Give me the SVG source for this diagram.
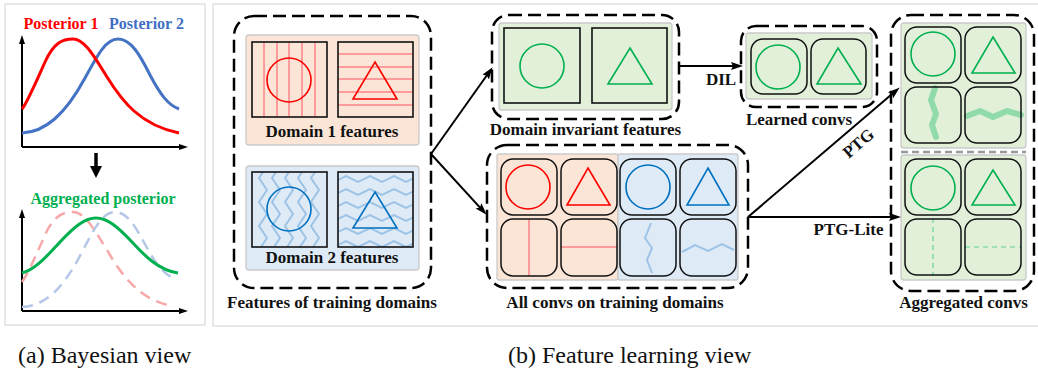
<svg xmlns="http://www.w3.org/2000/svg" width="1038" height="370" viewBox="0 0 1038 370">
<style>
.frame{fill:#fff;stroke:#d9d9d9;stroke-width:1.2}
.dash{fill:none;stroke:#000;stroke-width:2.5;stroke-dasharray:13 6}
.pp{fill:#fbe5d6;stroke:#cacaca;stroke-width:1.3}
.pb{fill:#deebf7;stroke:#cacaca;stroke-width:1.3}
.pg{fill:#e2f0d9;stroke:#cacaca;stroke-width:1.3}
.sq{fill:none;stroke:#111;stroke-width:1.6}
.cv{fill:none;stroke:#111;stroke-width:1.5}
.red{fill:none;stroke:#ff0000;stroke-width:1.6}
.blu{fill:none;stroke:#0070c0;stroke-width:1.6}
.grn{fill:none;stroke:#00b050;stroke-width:1.6}
.lr{fill:none;stroke:#ff9b9b;stroke-width:2}
.lb{fill:none;stroke:#9dc3e6;stroke-width:2}
.lg{fill:none;stroke:#4fcb85;stroke-opacity:0.55;stroke-width:6;stroke-linejoin:round;stroke-linecap:round}
.lgd{fill:none;stroke:#86dba8;stroke-width:1.6;stroke-dasharray:5 4}
.lbl{font-family:"Liberation Serif","Times New Roman",serif;font-weight:bold;font-size:17px;fill:#111;text-anchor:middle}
.cap{font-family:"Liberation Serif","Times New Roman",serif;font-size:24px;fill:#111}
.ttl{font-family:"Liberation Serif","Times New Roman",serif;font-weight:bold;font-size:16px;text-anchor:middle}
.axis{fill:none;stroke:#000;stroke-width:2}
.conn{fill:none;stroke:#000;stroke-width:2}
</style>
<defs>
<marker id="ah" markerUnits="userSpaceOnUse" markerWidth="12" markerHeight="10" refX="5" refY="4" orient="auto">
<path d="M0,0 L12,4 L0,8 L2,4 z" fill="#000"/>
</marker>
<marker id="ahs" markerUnits="userSpaceOnUse" markerWidth="10" markerHeight="8" refX="4" refY="3" orient="auto">
<path d="M0,0 L9,3 L0,6 z" fill="#000"/>
</marker>
<clipPath id="c3"><rect x="252" y="172" width="75" height="75"/></clipPath>
<clipPath id="c4"><rect x="338" y="172" width="75" height="75"/></clipPath>
<path id="zv" d="M4,166 L-4,178 L4,190 L-4,202 L4,214 L-4,226 L4,238 L-4,250 L4,262"/>
<path id="zh" d="M334,3 L346,-3 L358,3 L370,-3 L382,3 L394,-3 L406,3 L418,-3"/>
</defs>

<rect class="frame" x="5" y="4" width="200" height="321"/>
<rect class="frame" x="213" y="4" width="830" height="322"/>

<g id="bayesian-view">
<text class="ttl" x="61" y="29" fill="#ff0000">Posterior 1</text>
<text class="ttl" x="146.5" y="29" fill="#3f6fc4">Posterior 2</text>
<path class="axis" d="M22,147 L22,40" marker-end="url(#ahs)"/>
<path class="axis" d="M22,147 L183,147" marker-end="url(#ahs)"/>
<path d="M22,133 C45,132 65,115 85,78 C98,54 106,39 118,39 C131,39 140,55 150,75 C160,94 168,105 179,109" fill="none" stroke="#4472c4" stroke-width="3"/>
<path d="M22,109 C27,103 36,82 45,62 C54,42 63,39 73,39 C85,39 95,58 107,77 C122,101 140,125 179,133" fill="none" stroke="#ff0000" stroke-width="3"/>
<line x1="96" y1="153" x2="96" y2="168" stroke="#000" stroke-width="3.5"/>
<path d="M90,166 L102,166 L96,178 z" fill="#000"/>
<text class="ttl" x="103" y="204" fill="#00b050">Aggregated posterior</text>
<path class="axis" d="M22,311 L22,214" marker-end="url(#ahs)"/>
<path class="axis" d="M22,311 L183,311" marker-end="url(#ahs)"/>
<path d="M22,282 C27,276 36,255 45,235 C54,215 63,212 73,212 C85,212 95,231 107,250 C120,272 137,298 168,305" fill="none" stroke="#f7a8a8" stroke-width="2.5" stroke-dasharray="11 7"/>
<path d="M22,307 C45,306 63,289 82,252 C95,227 103,212 115,212 C128,212 136,228 146,246 C155,263 163,273 173,278" fill="none" stroke="#b4c7e7" stroke-width="2.5" stroke-dasharray="11 7"/>
<path d="M22,273 C35,270 48,255 60,242 C75,226 85,218 96,218 C107,218 117,226 132,242 C144,255 158,270 178,273" fill="none" stroke="#00b050" stroke-width="3"/>
</g>

<g id="features-of-training-domains">
<rect class="dash" x="234" y="16" width="197" height="272" rx="20"/>
<rect class="pp" x="246" y="35" width="173" height="110" rx="3"/>
<g class="lr">
<line x1="264" y1="42" x2="264" y2="117"/><line x1="277" y1="42" x2="277" y2="117"/><line x1="289" y1="42" x2="289" y2="117"/><line x1="302" y1="42" x2="302" y2="117"/><line x1="315" y1="42" x2="315" y2="117"/>
<line x1="338" y1="54" x2="413" y2="54"/><line x1="338" y1="67" x2="413" y2="67"/><line x1="338" y1="79" x2="413" y2="79"/><line x1="338" y1="92" x2="413" y2="92"/><line x1="338" y1="105" x2="413" y2="105"/>
</g>
<circle class="red" cx="289" cy="80" r="22"/>
<path class="red" d="M375,62 L397,99 L353,99 z"/>
<rect class="sq" x="252" y="42" width="75" height="75"/>
<rect class="sq" x="338" y="42" width="75" height="75"/>
<text class="lbl" x="332" y="137">Domain 1 features</text>
<rect class="pb" x="246" y="166" width="173" height="104" rx="3"/>
<g class="lb" clip-path="url(#c3)">
<use href="#zv" x="263"/><use href="#zv" x="276"/><use href="#zv" x="289"/><use href="#zv" x="302"/><use href="#zv" x="315"/>
</g>
<g class="lb" clip-path="url(#c4)">
<use href="#zh" y="179"/><use href="#zh" y="192"/><use href="#zh" y="205"/><use href="#zh" y="218"/><use href="#zh" y="231"/><use href="#zh" y="244"/>
</g>
<circle class="blu" cx="289" cy="209" r="22"/>
<path class="blu" d="M375,192 L397,228 L353,228 z"/>
<rect class="sq" x="252" y="172" width="75" height="75"/>
<rect class="sq" x="338" y="172" width="75" height="75"/>
<text class="lbl" x="332" y="263">Domain 2 features</text>
<text class="lbl" x="332" y="308">Features of training domains</text>
</g>

<g id="domain-invariant-features">
<rect class="dash" x="492" y="15" width="187" height="104" rx="17"/>
<rect class="pg" x="499" y="23" width="173" height="87" rx="3"/>
<rect class="sq" x="504" y="28" width="76" height="75"/>
<rect class="sq" x="592" y="28" width="75" height="75"/>
<circle class="grn" cx="542" cy="66" r="22"/>
<path class="grn" d="M630,48 L652,84 L608,84 z"/>
<text class="lbl" x="585.5" y="135">Domain invariant features</text>
</g>

<g id="learned-convs">
<rect class="dash" x="741" y="26" width="136" height="81" rx="15"/>
<rect class="pg" x="746" y="33" width="126" height="66" rx="3"/>
<rect class="cv" x="751" y="39" width="56" height="55" rx="12"/>
<rect class="cv" x="811" y="39" width="55" height="55" rx="12"/>
<circle class="grn" cx="778" cy="67" r="22"/>
<path class="grn" d="M838,48 L861,84 L817,84 z"/>
<text class="lbl" x="799" y="125">Learned convs</text>
</g>

<g id="all-convs-on-training-domains">
<rect class="dash" x="487" y="145" width="261" height="143" rx="20"/>
<rect class="pp" x="497" y="154" width="121" height="126" rx="2"/>
<rect class="pb" x="618" y="154" width="120" height="126" rx="2"/>
<line class="lr" x1="529" y1="219" x2="529" y2="276"/>
<line class="lr" x1="561" y1="247" x2="617" y2="247"/>
<polyline class="lb" points="651,223 645,238 652,248 647,260 652,273"/>
<polyline class="lb" points="682,252 695,245 708,251 722,244 734,250"/>
<g class="cv">
<rect x="501" y="159" width="56" height="56" rx="12"/><rect x="561" y="159" width="56" height="56" rx="12"/><rect x="620" y="159" width="56" height="56" rx="12"/><rect x="680" y="159" width="56" height="56" rx="12"/>
<rect x="501" y="219" width="56" height="57" rx="12"/><rect x="561" y="219" width="56" height="57" rx="12"/><rect x="620" y="219" width="56" height="57" rx="12"/><rect x="680" y="219" width="56" height="57" rx="12"/>
</g>
<circle class="red" cx="528" cy="187" r="22"/>
<path class="red" d="M588,168 L610,205 L567,205 z"/>
<circle class="blu" cx="648" cy="187" r="22"/>
<path class="blu" d="M708,168 L729,205 L687,205 z"/>
<text class="lbl" x="615" y="308">All convs on training domains</text>
</g>

<g id="aggregated-convs">
<rect class="dash" x="891" y="15" width="143" height="276" rx="20"/>
<rect class="pg" x="901" y="23" width="125" height="125" rx="3"/>
<line x1="901" y1="152" x2="1026" y2="152" stroke="#999" stroke-width="2.5" stroke-dasharray="7 4"/>
<rect class="pg" x="901" y="155" width="125" height="125" rx="3"/>
<polyline class="lg" points="935,88 931,100 936,114 932,125 936,137"/>
<polyline class="lg" points="967,116 980,111 993,117 1007,111 1021,115"/>
<line class="lgd" x1="933" y1="218" x2="933" y2="275"/>
<line class="lgd" x1="965" y1="247" x2="1021" y2="247"/>
<g class="cv">
<rect x="905" y="27" width="56" height="56" rx="12"/><rect x="965" y="27" width="56" height="56" rx="12"/>
<rect x="905" y="87" width="56" height="56" rx="12"/><rect x="965" y="87" width="56" height="56" rx="12"/>
<rect x="905" y="159" width="56" height="56" rx="12"/><rect x="965" y="159" width="56" height="56" rx="12"/>
<rect x="905" y="219" width="56" height="56" rx="12"/><rect x="965" y="219" width="56" height="56" rx="12"/>
</g>
<circle class="grn" cx="933" cy="54" r="22"/>
<path class="grn" d="M993,37 L1015,73 L972,73 z"/>
<circle class="grn" cx="933" cy="188" r="22"/>
<path class="grn" d="M993,170 L1015,205 L972,205 z"/>
<text class="lbl" x="963.5" y="308">Aggregated convs</text>
</g>

<g id="connectors">
<path class="conn" d="M431,154 L488.5,73" marker-end="url(#ah)"/>
<path class="conn" d="M431,154 L481.9,209.6" marker-end="url(#ah)"/>
<path class="conn" d="M679,66 L736,66" marker-end="url(#ah)"/>
<text class="lbl" x="721" y="85">DIL</text>
<path class="conn" d="M748,217 L894.4,92" marker-end="url(#ah)"/>
<text class="lbl" transform="translate(858,143) rotate(-40.7)" x="0" y="6">PTG</text>
<path class="conn" d="M748,217 L894,217" marker-end="url(#ah)"/>
<text class="lbl" x="848.5" y="235">PTG-Lite</text>
</g>

<text class="cap" x="18" y="363">(a) Bayesian view</text>
<text class="cap" x="508" y="363">(b) Feature learning view</text>
</svg>
